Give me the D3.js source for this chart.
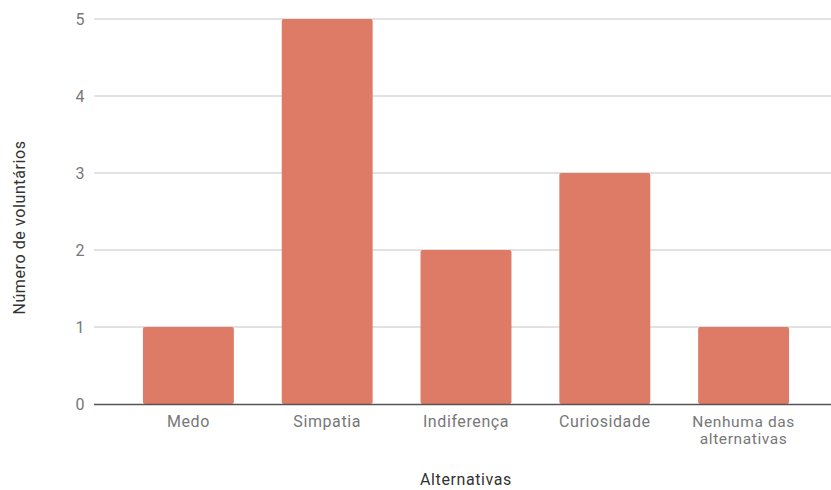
<!DOCTYPE html>
<html><head><meta charset="utf-8">
<script src="https://cdn.jsdelivr.net/npm/d3@7"></script>
<style>body{margin:0;background:#fff}svg{display:block}text{font-family:Roboto,Arial,sans-serif;letter-spacing:0.6px}</style>
</head><body><svg id="c" width="831" height="490"></svg>
<script>
const categories = ["Medo", "Simpatia", "Indiferença", "Curiosidade", "Nenhuma das alternativas"];
const values = [1, 5, 2, 3, 1];
const yTicks = [0, 1, 2, 3, 4, 5];
const xTitle = "Alternativas";
const yTitle = "Número de voluntários";

(function () {
const svg = d3.select("#c");
const pL = 94, pR = 831, pT = 19, pB = 404;
const x = d3.scaleBand().domain(categories).range([119, 813]).paddingInner(0.345).paddingOuter(0.1725);
const y = d3.scaleLinear().domain([0, 5]).range([pB, pT]);

// gridlines
svg.append("g").selectAll("line").data(yTicks.filter(d => d > 0)).join("line")
  .attr("x1", pL).attr("x2", pR)
  .attr("y1", d => y(d)).attr("y2", d => y(d))
  .attr("stroke", "#d9d9d9").attr("stroke-width", 1.5);

// y tick labels
svg.append("g").selectAll("text").data(yTicks).join("text")
  .attr("x", 85).attr("y", d => y(d)).attr("dy", "0.35em")
  .attr("text-anchor", "end").attr("font-size", 16).attr("fill", "#777")
  .text(d => d);

// bars
svg.append("g").selectAll("rect").data(categories).join("rect")
  .attr("x", d => x(d)).attr("width", x.bandwidth())
  .attr("y", (d, i) => y(values[i])).attr("height", (d, i) => pB - y(values[i]))
  .attr("rx", 2).attr("fill", "#dd7b67");

// baseline
svg.append("line").attr("x1", pL).attr("x2", pR).attr("y1", pB + 0.5).attr("y2", pB + 0.5)
  .attr("stroke", "#555").attr("stroke-width", 1.5);

// x labels with wrapping
const xl = svg.append("g");
categories.forEach(c => {
  const cx = x(c) + x.bandwidth() / 2;
  const words = c.split(" ");
  let lines = [c];
  if (c.length > 14) {
    lines = [words.slice(0, 2).join(" "), words.slice(2).join(" ")];
  }
  const fs = lines.length > 1 ? 15.5 : 16;
  lines.forEach((ln, i) => xl.append("text").attr("x", cx).attr("y", 426.5 + i * 17)
    .attr("text-anchor", "middle").attr("font-size", fs).attr("fill", "#777").text(ln));
});

// titles
svg.append("text").attr("x", 466).attr("y", 485)
  .attr("text-anchor", "middle").attr("font-size", 16).attr("fill", "#333").text(xTitle);
svg.append("text").attr("transform", `translate(25,${(pT + pB) / 2 + 16}) rotate(-90)`)
  .attr("text-anchor", "middle").attr("font-size", 16).attr("fill", "#333").text(yTitle);
})();
</script></body></html>
